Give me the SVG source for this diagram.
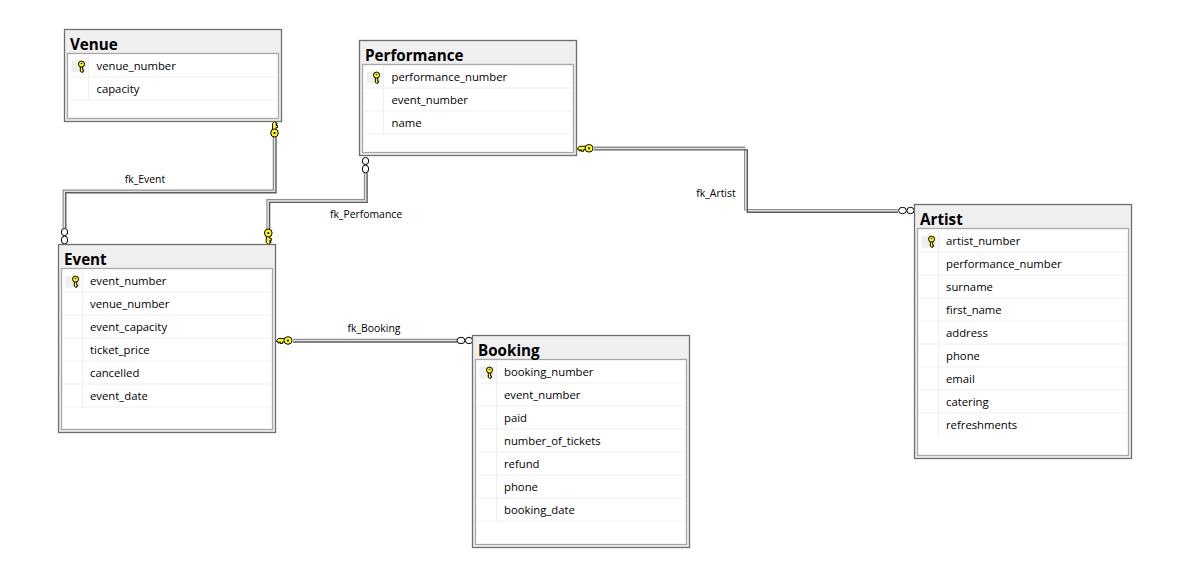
<svg xmlns="http://www.w3.org/2000/svg" width="1192" height="581" viewBox="0 0 1192 581">
<style>
text{font-family:"Open Sans","Noto Sans","Liberation Sans",sans-serif;fill:#000}
.t{font-size:15.2px;font-weight:700}
.c{font-size:11.3px}
.l{font-size:10.4px;text-anchor:middle}
.o{fill:#efefef;stroke:#6f6f6f;stroke-width:1.3}
.i{fill:#fff;stroke:#a8a8a8;stroke-width:1.3}
.s{stroke:#f0f0f0;stroke-width:1.2;fill:none}
.k{fill:#efefef}
.a{fill:none;stroke:#8f8f8f;stroke-width:1.4}
.b{fill:none;stroke:#e2e2e2;stroke-width:1.3}
.d{fill:none;stroke:#5a5a5a;stroke-width:1.4}
.y{fill:#ffff00;stroke:#000;stroke-width:1}
.n{fill:#fff;stroke:#000;stroke-width:1}
</style>
<defs>
<g id="fk"><path class="y" d="M-2 3.5V9.5L0 11.5H1V10H2.5V8.5H1.5V7.5H3V5.5H1.5V3.5Z"/><ellipse class="y" cx="0" cy="0" rx="3.8" ry="4"/><circle cx="0" cy="0" r="1.1"/></g>
<g id="pk"><rect class="k" x="-10" y="-6" width="15" height="12"/><path class="y" d="M-1.2 0V4.6L0 5.8H1.2V4.8H2V3.6H1.2V0Z"/><ellipse class="y" cx="0" cy="-2.4" rx="3" ry="3"/><circle cx="0" cy="-3" r=".8"/></g>
<g id="oo"><ellipse class="n" cx="0" cy="4" rx="3.2" ry="3.6"/><ellipse class="n" cx="0" cy="12" rx="3.2" ry="3.9"/></g>
</defs>

<g id="connectors">
<g id="fk_Event">
<path class="a" d="M273.4 137V190.2H63.2V228"/>
<path class="b" d="M274.7 137V191.5H64.5V228"/>
<path class="d" d="M276 137V192.8H65.8V228"/>
<use href="#oo" x="64.5" y="228"/>
<use href="#fk" transform="translate(274.5 133) scale(1 -1)"/>
<text class="l" x="145" y="183">fk_Event</text>
</g>
<g id="fk_Perfomance">
<path class="a" d="M364.5 173V199.8H267V229"/>
<path class="b" d="M365.8 173V201.1H268.3V229"/>
<path class="d" d="M367.1 173V202.4H269.6V229"/>
<use href="#oo" x="365.5" y="157"/>
<use href="#fk" x="268.3" y="233"/>
<text class="l" x="366" y="218">fk_Perfomance</text>
</g>
<g id="fk_Artist">
<path class="a" d="M594 147.3H744.7V209.7H898"/>
<path class="b" d="M594 148.6H746V211H898"/>
<path class="d" d="M594 149.9H747.3V212.3H898"/>
<use href="#oo" transform="translate(914.5 210.5) rotate(90)"/>
<use href="#fk" transform="translate(589 148.3) rotate(90)"/>
<text class="l" x="716" y="197">fk_Artist</text>
</g>
<g id="fk_Booking">
<path class="a" d="M293 339.4H457"/>
<path class="b" d="M293 340.7H457"/>
<path class="d" d="M293 342H457"/>
<use href="#oo" transform="translate(473 340.5) rotate(90)"/>
<use href="#fk" transform="translate(288 340.5) rotate(90)"/>
<text class="l" x="374" y="332">fk_Booking</text>
</g>
</g>

<g id="Venue" transform="translate(64.5 29.5)">
<rect class="o" width="217" height="92"/><rect class="i" x="3" y="24" width="211" height="65"/>
<path class="s" d="M4 47.5H213M4 70.5H213M24 25V70"/>
<use href="#pk" x="17" y="37"/>
<text class="t" x="5.5" y="20.5">Venue</text>
<text class="c" x="32" y="40.5">venue_number</text><text class="c" x="32" y="63.5">capacity</text>
</g>

<g id="Performance" transform="translate(359.5 40.5)">
<rect class="o" width="217" height="115"/><rect class="i" x="3" y="24" width="211" height="88"/>
<path class="s" d="M4 47.5H213M4 70.5H213M4 93.5H213M24 25V93"/>
<use href="#pk" x="17" y="37"/>
<text class="t" x="5.5" y="20.5">Performance</text>
<text class="c" x="32" y="40.5">performance_number</text><text class="c" x="32" y="63.5">event_number</text><text class="c" x="32" y="86.5">name</text>
</g>

<g id="Event" transform="translate(58.5 244.5)">
<rect class="o" width="217" height="188"/><rect class="i" x="3" y="24" width="211" height="161"/>
<path class="s" d="M4 47.5H213M4 70.5H213M4 93.5H213M4 116.5H213M4 139.5H213M4 162.5H213M24 25V163"/>
<use href="#pk" x="17" y="37"/>
<text class="t" x="5.5" y="20.5">Event</text>
<text class="c" x="31.5" y="40.5">event_number</text><text class="c" x="31.5" y="63.5">venue_number</text><text class="c" x="31.5" y="86.5">event_capacity</text><text class="c" x="31.5" y="109.5">ticket_price</text><text class="c" x="31.5" y="132.5">cancelled</text><text class="c" x="31.5" y="155.5">event_date</text>
</g>

<g id="Booking" transform="translate(472.5 335.5)">
<rect class="o" width="217" height="212"/><rect class="i" x="3" y="24" width="211" height="185"/>
<path class="s" d="M4 47.5H213M4 70.5H213M4 93.5H213M4 116.5H213M4 139.5H213M4 162.5H213M4 185.5H213M24 25V186"/>
<use href="#pk" x="17" y="37"/>
<text class="t" x="5.5" y="20.5">Booking</text>
<text class="c" x="31.5" y="40.5">booking_number</text><text class="c" x="31.5" y="63.5">event_number</text><text class="c" x="31.5" y="86.5">paid</text><text class="c" x="31.5" y="109.5">number_of_tickets</text><text class="c" x="31.5" y="132.5">refund</text><text class="c" x="31.5" y="155.5">phone</text><text class="c" x="31.5" y="178.5">booking_date</text>
</g>

<g id="Artist" transform="translate(914.5 204.5)">
<rect class="o" width="217" height="254"/><rect class="i" x="3" y="24" width="211" height="227"/>
<path class="s" d="M4 47.5H213M4 70.5H213M4 93.5H213M4 116.5H213M4 139.5H213M4 162.5H213M4 185.5H213M4 208.5H213M24 25V232"/>
<use href="#pk" x="17" y="37"/>
<text class="t" x="5.5" y="20.5">Artist</text>
<text class="c" x="31.5" y="40.5">artist_number</text><text class="c" x="31.5" y="63.5">performance_number</text><text class="c" x="31.5" y="86.5">surname</text><text class="c" x="31.5" y="109.5">first_name</text><text class="c" x="31.5" y="132.5">address</text><text class="c" x="31.5" y="155.5">phone</text><text class="c" x="31.5" y="178.5">email</text><text class="c" x="31.5" y="201.5">catering</text><text class="c" x="31.5" y="224.5">refreshments</text>
</g>
</svg>
